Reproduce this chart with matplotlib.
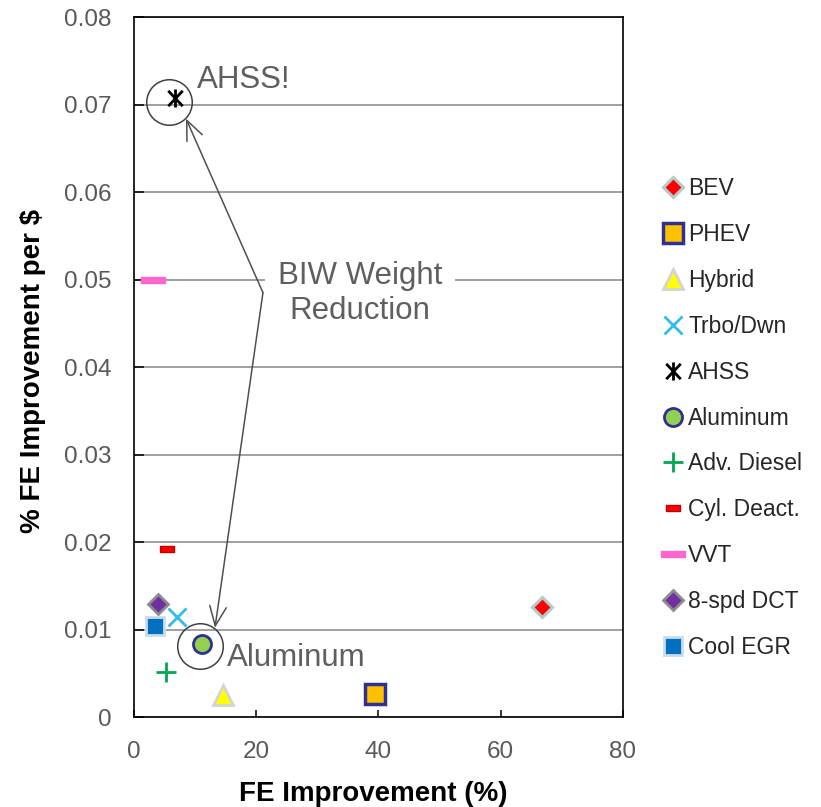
import matplotlib
matplotlib.use("Agg")
import matplotlib.pyplot as plt
from matplotlib.path import Path

plt.rcParams['font.family'] = ['Liberation Sans', 'DejaVu Sans']

# ---- data ----
names = ['BEV', 'PHEV', 'Hybrid', 'Trbo/Dwn', 'AHSS', 'Aluminum',
         'Adv. Diesel', 'Cyl. Deact.', 'VVT', '8-spd DCT', 'Cool EGR']
fe_improvement = [66.7, 39.5, 14.6, 7.1, 6.7, 11.1, 5.3, 5.4, 3.1, 4.0, 3.4]
fe_per_dollar = [0.0126, 0.0026, 0.0025, 0.0114, 0.0708, 0.0084,
                 0.0051, 0.0192, 0.0500, 0.0129, 0.0104]

x_ticks = [0, 20, 40, 60, 80]
y_ticks = [0, 0.01, 0.02, 0.03, 0.04, 0.05, 0.06, 0.07, 0.08]
y_tick_labels = ['0', '0.01', '0.02', '0.03', '0.04', '0.05', '0.06', '0.07', '0.08']

# annotation anchors (data coords)
circle_centers = [(5.8, 0.0703), (10.8, 0.00817)]
arrow_start = (21.1, 0.0485)
arrow_ends = [(8.5, 0.0684), (13.25, 0.0102)]

# ---- styles ----
ahss_marker = Path([(0, -1), (0, 1), (-0.8, -0.85), (0.8, 0.85), (-0.8, 0.85), (0.8, -0.85)],
                   [Path.MOVETO, Path.LINETO, Path.MOVETO, Path.LINETO, Path.MOVETO, Path.LINETO])
cyl_marker = [(-1, -0.45), (1, -0.45), (1, 0.45), (-1, 0.45), (-1, -0.45)]
vvt_marker = [(-1, -0.28), (1, -0.28), (1, 0.28), (-1, 0.28), (-1, -0.28)]

styles = [
    dict(marker='D', ms=10, mfc='#FF0000', mec='#B4CACA', mew=2.2),
    dict(marker='s', ms=14, mfc='#FFC000', mec='#2E3192', mew=2.5),
    dict(marker='^', ms=14, mfc='#FFFF00', mec='#D4D4D4', mew=2),
    dict(marker='x', ms=13, mfc='none', mec='#33BBEE', mew=2),
    dict(marker=ahss_marker, ms=13, mfc='none', mec='#000000', mew=2.0),
    dict(marker='o', ms=13, mfc='#92D050', mec='#2E3192', mew=2),
    dict(marker='+', ms=14, mfc='none', mec='#00A651', mew=2),
    dict(marker=cyl_marker, ms=9.5, mfc='#FF0000', mec='#C00000', mew=1),
    dict(marker=vvt_marker, ms=17, mfc='#FF66CC', mec='#FF66CC', mew=1),
    dict(marker='D', ms=10, mfc='#7030A0', mec='#8C8C8C', mew=2),
    dict(marker='s', ms=13, mfc='#0070C0', mec='#CADCEA', mew=2),
]

fig = plt.figure(figsize=(8.21, 8.07), dpi=100)
ax = fig.add_axes([0.1632, 0.1115, 0.5956, 0.8674])

for name, xv, yv, st in zip(names, fe_improvement, fe_per_dollar, styles):
    ax.plot([xv], [yv], linestyle='none', label=name, zorder=4, **st)

ax.set_xlim(0, 80)
ax.set_ylim(0, 0.08)
ax.set_xticks(x_ticks)
ax.set_xticklabels([str(t) for t in x_ticks])
ax.set_yticks(y_ticks)
ax.set_yticklabels(y_tick_labels)
ax.tick_params(axis='both', direction='in', labelsize=17.5, labelcolor='#595959',
               color='black', width=1.1)
ax.tick_params(axis='y', length=7, pad=16)
ax.tick_params(axis='x', length=5, pad=17)
for s in ax.spines.values():
    s.set_color('black')
    s.set_linewidth(1.2)
ax.yaxis.grid(True, color='#868686', linewidth=1.1, zorder=0)
ax.set_axisbelow(True)

ax.set_xlabel('FE Improvement (%)', fontsize=20, fontweight='bold')
ax.set_ylabel('% FE Improvement per $', fontsize=20, fontweight='bold')
ax.xaxis.set_label_coords(0.489, -0.092)
ax.yaxis.set_label_coords(-0.180, 0.494)

# annotations
txt_color = '#5f5f5f'
for cx, cy in circle_centers:
    ax.plot([cx], [cy], marker='o', ms=32.8, mfc='none', mec='#404040', mew=1.1,
            linestyle='none', zorder=5)
ax.text(10.3, 0.0719, 'AHSS!', fontsize=22.5, color=txt_color, ha='left', va='baseline', zorder=6)
ax.text(15.2, 0.00583, 'Aluminum', fontsize=22.5, color=txt_color, ha='left', va='baseline', zorder=6)
ax.text(37.0, 0.0484, 'BIW Weight\nReduction', fontsize=22.5, color=txt_color,
        ha='center', va='center', zorder=3,
        bbox=dict(boxstyle='square,pad=0.4', facecolor='white', edgecolor='none'))
for ex, ey in arrow_ends:
    ax.annotate('', xy=(ex, ey), xytext=arrow_start, xycoords='data', textcoords='data',
                arrowprops=dict(arrowstyle='->,head_length=0.7,head_width=0.3',
                                mutation_scale=20, color='#505050', lw=1.1,
                                shrinkA=0, shrinkB=0), zorder=6)

fig.legend(loc='upper left', bbox_to_anchor=(0.806, 0.7807), frameon=False,
           fontsize=16.5, handlelength=0.95, handletextpad=0.2, labelspacing=1.0,
           borderpad=0, borderaxespad=0, numpoints=1, labelcolor='#262626')

fig.savefig('out.png', dpi=100)
